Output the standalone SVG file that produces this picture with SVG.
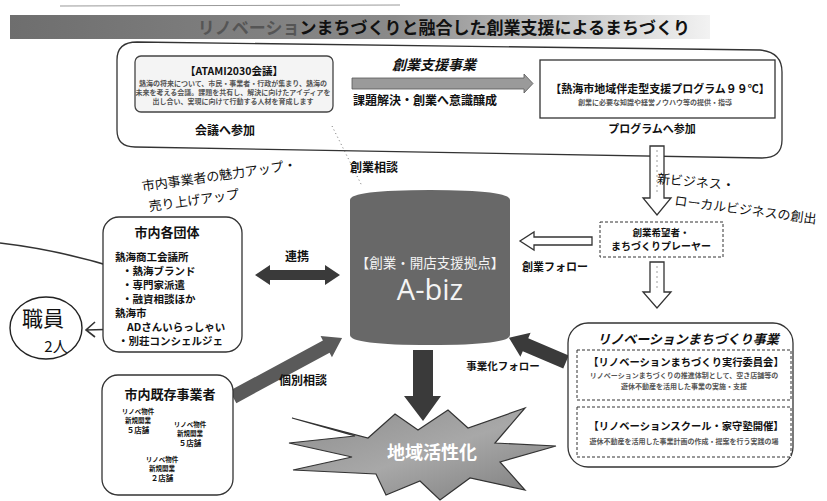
<svg xmlns="http://www.w3.org/2000/svg" width="827" height="501" viewBox="0 0 827 501">
<defs>
<linearGradient id="band" x1="0" y1="0" x2="1" y2="0">
<stop offset="0" stop-color="#6e6e6e"/>
<stop offset="0.55" stop-color="#8a8a8a"/>
<stop offset="0.8" stop-color="#c8c8c8"/>
<stop offset="1" stop-color="#f2f2f2"/>
</linearGradient>
<linearGradient id="burst" x1="0" y1="0" x2="1" y2="1">
<stop offset="0" stop-color="#8c8c8c"/>
<stop offset="0.5" stop-color="#a8a8a8"/>
<stop offset="1" stop-color="#7a7a7a"/>
</linearGradient>
<style>
text{font-family:"Noto Sans CJK JP","Noto Sans",sans-serif;fill:#111}
.b{font-weight:bold}
.t10{font-size:10.5px}
.t11{font-size:11px}
.t12{font-size:12px}
.t13{font-size:13px}
.tiny{font-size:7px;fill:#555;font-weight:bold}
.hand{font-weight:normal;font-size:13px}
.box{fill:#fff;stroke:#333;stroke-width:1.3}
.dash{fill:#fff;stroke:#333;stroke-width:1;stroke-dasharray:3 2}
.hollow{fill:#fff;stroke:#333;stroke-width:1.3}
.dark{fill:#3a3a3a}
.mid{fill:#5a5a5a}
.c{text-anchor:middle}
</style>
</defs>
<rect width="827" height="501" fill="#fff"/>

<!-- title -->
<g id="title">
<line x1="60" y1="6" x2="400" y2="5" stroke="#999" stroke-width="1"/>
<rect x="10" y="15" width="700" height="24" fill="url(#band)"/>
<text x="690" y="34" class="b" font-size="17" text-anchor="end"><tspan fill="#555">リノベーショ</tspan>ンまちづくりと融合した創業支援によるまちづくり</text>
</g>

<!-- top container -->
<g id="top-frame">
<path d="M137,42 L760,50 Q782,52 782,72 L782,140 Q782,158 762,158 L135,147 Q117,147 117,130 L117,60 Q117,42 137,42 Z" fill="none" stroke="#333" stroke-width="1.3"/>
</g>

<g id="atami">
<rect x="135" y="56" width="198" height="56" rx="6" fill="#f4f4f4" stroke="#444" stroke-width="1.3"/>
<text x="234" y="75" class="b c" font-size="10.5">【ATAMI2030会議】</text>
<text x="233" y="86" class="tiny c">熱海の将来について、市民・事業者・行政が集まり、熱海の</text>
<text x="233" y="95" class="tiny c">未来を考える会議。課題を共有し、解決に向けたアイディアを</text>
<text x="233" y="104" class="tiny c">出し合い、実現に向けて行動する人材を育成します</text>
<text x="225" y="135" class="b c t12">会議へ参加</text>
</g>

<g id="sogyo-shien">
<text x="434" y="70" class="b c" font-size="14" font-style="italic">創業支援事業</text>
<polygon points="352,78 524,78 524,74 533,83.5 524,93 524,89 352,89" fill="#9a9a9a" stroke="#555" stroke-width="0.8"/>
<text x="353" y="105" class="b t12">課題解決・創業へ意識醸成</text>
</g>

<g id="program99">
<rect x="540" y="60" width="235" height="58" fill="#fff" stroke="#333" stroke-width="1.3"/>
<text x="660" y="93" class="b c" font-size="11">【熱海市地域伴走型支援プログラム９９℃】</text>
<text x="655" y="105" class="tiny c">創業に必要な知識や経営ノウハウ等の提供・指導</text>
<text x="652" y="133" class="b c t11">プログラムへ参加</text>
</g>

<!-- connectors -->
<g id="connectors">
<polygon class="hollow" points="650,146 664,146 664,198 671,198 657,215 643,198 650,198"/>
<line x1="657" y1="150" x2="657" y2="195" stroke="#888" stroke-width="0.8" stroke-dasharray="2 3"/>
<polygon class="hollow" points="650,262 664,262 664,292 671,292 657,308 643,292 650,292"/>
<line x1="657" y1="266" x2="657" y2="290" stroke="#888" stroke-width="0.8" stroke-dasharray="2 3"/>
<polygon class="hollow" points="592,237 534,237 534,232 520,241 534,250 534,245 592,245"/>
<polygon class="dark" points="255,275 270,265 270,270 325,270 325,265 340,275 325,285 325,280 270,280 270,285"/>
<g transform="translate(233,397) rotate(-28.4)">
<polygon class="mid" points="0,-7 106,-7 106,-12 124,0 106,12 106,7 0,7"/>
</g>
<g transform="translate(566,362) rotate(-157)">
<polygon class="dark" points="0,-7 44,-7 44,-13 62,0 44,13 44,7 0,7"/>
</g>
<polygon class="dark" points="413,350 433,350 433,396 441,396 423,421 404,396 413,396"/>
<line x1="332" y1="126" x2="362" y2="186" stroke="#777" stroke-width="1" stroke-dasharray="1 3"/>
<path d="M0,243 Q60,250 120,269" fill="none" stroke="#333" stroke-width="1.5"/>
<path d="M124,330 Q105,329 86,330 M95,322 L86,330 L95,337" fill="none" stroke="#333" stroke-width="1.6"/>
</g>

<g id="labels">
<text x="657" y="185" class="hand" font-size="12.5" transform="rotate(5 677 180)">新ビジネス・</text>
<text x="674" y="205" class="hand" font-size="13.5" transform="rotate(7.5 674 205)">ローカルビジネスの創出</text>
<text x="522" y="271" class="b t11">創業フォロー</text>
<text x="297" y="261" class="b c t12">連携</text>
<text x="303" y="385" class="b c t12">個別相談</text>
<text x="503" y="370" class="b c" font-size="10.5">事業化フォロー</text>
<text x="350" y="172" class="b t12">創業相談</text>
<g transform="rotate(-8 142 187)">
<text x="142" y="191" class="hand">市内事業者の魅力アップ・</text>
<text x="146" y="212" class="hand">売り上げアップ</text>
</g>
</g>

<g id="abiz">
<path d="M350,200 Q350,190 430,190 Q510,190 510,200 L510,335 Q510,345 430,345 Q350,345 350,335 Z" fill="#686868"/>
<text x="430" y="268" class="c" font-size="13.5" style="fill:#f4f4f4">【創業・開店支援拠点】</text>
<text x="430" y="300" class="c" font-size="29" style="fill:#f4f4f4;font-family:'Open Sans','Noto Sans',sans-serif">A-biz</text>
</g>

<g id="shinai-dantai">
<rect x="103" y="217" width="139" height="135" rx="16" class="box"/>
<text x="167" y="237" class="b c t13">市内各団体</text>
<text x="115" y="261" class="b t10">熱海商工会議所</text>
<text x="122" y="275" class="b t10">・熱海ブランド</text>
<text x="122" y="289" class="b t10">・専門家派遣</text>
<text x="122" y="303" class="b t10">・融資相談ほか</text>
<text x="115" y="317" class="b t10">熱海市</text>
<text x="127" y="331" class="b t10">ADさんいらっしゃい</text>
<text x="118" y="345" class="b t10">・別荘コンシェルジェ</text>
</g>

<g id="shokuin">
<ellipse cx="46" cy="328" rx="36" ry="31" fill="none" stroke="#222" stroke-width="1.4"/>
<text x="43" y="326" class="c" font-size="21">職員</text>
<text x="56" y="352" class="c" font-size="15">2人</text>
</g>

<g id="kizon-jigyosha">
<rect x="102" y="375" width="131" height="120" rx="16" class="box"/>
<text x="170" y="399" class="b c t13">市内既存事業者</text>
<g font-weight="bold">
<text x="138" y="414" class="c" font-size="6.5">リノベ物件</text>
<text x="138" y="423" class="c" font-size="6.5">新規開業</text>
<text x="138" y="433" class="c" font-size="7.5">５店舗</text>
<text x="190" y="427" class="c" font-size="6.5">リノベ物件</text>
<text x="190" y="436" class="c" font-size="6.5">新規開業</text>
<text x="190" y="446" class="c" font-size="7.5">５店舗</text>
<text x="162" y="462" class="c" font-size="6.5">リノベ物件</text>
<text x="162" y="471" class="c" font-size="6.5">新規開業</text>
<text x="162" y="481" class="c" font-size="7.5">２店舗</text>
</g>
</g>

<g id="player">
<rect x="600" y="222" width="123" height="35" class="dash"/>
<text x="661" y="236" class="b c" font-size="9.5">創業希望者・</text>
<text x="661" y="250" class="b c" font-size="10">まちづくりプレーヤー</text>
</g>

<g id="renovation">
<rect x="568" y="323" width="225" height="144" rx="20" class="box"/>
<text x="688" y="344" class="b c t13" font-style="italic">リノベーションまちづくり事業</text>
<rect x="577" y="350" width="214" height="50" class="dash"/>
<text x="686" y="366" class="b c" font-size="10.3">【リノベーションまちづくり実行委員会】</text>
<text x="684" y="378" class="tiny c">リノベーションまちづくりの推進体制として、空き店舗等の</text>
<text x="684" y="389" class="tiny c">遊休不動産を活用した事業の実施・支援</text>
<rect x="577" y="407" width="214" height="50" class="dash"/>
<text x="686" y="430" class="b c" font-size="10.3">【リノベーションスクール・家守塾開催】</text>
<text x="684" y="444" class="tiny c">遊休不動産を活用した事業計画の作成・提案を行う実践の場</text>
</g>

<g id="chiiki-kasseika">
<polygon points="292,418 368,438 395,414 418,430 448,410 468,428 525,408 495,443 556,446 500,462 525,490 470,478 440,500 420,481 386,495 376,474 293,470 352,457 289,443 355,436" fill="url(#burst)" stroke="#333" stroke-width="1.2"/>
<text x="432" y="459" class="b c" font-size="18" style="fill:#fff">地域活性化</text>
</g>
</svg>
